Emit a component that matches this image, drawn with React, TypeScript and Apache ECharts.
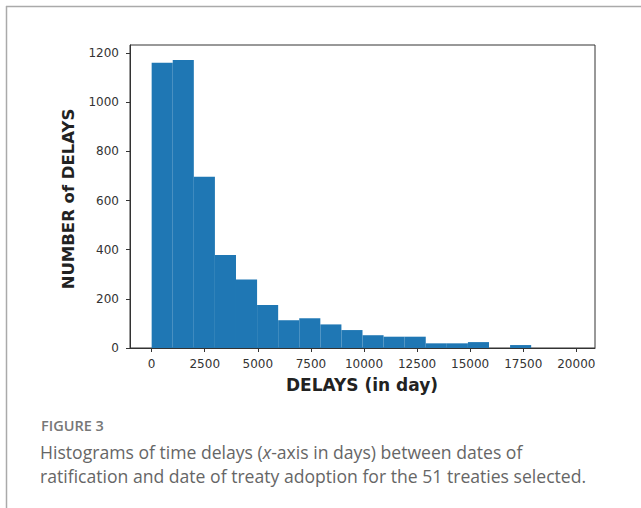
import React, { useEffect, useRef } from "react";
import * as echarts from "echarts";

// Histogram bins (days) and counts
const binWidth = 993;
const binStarts = [0, 993, 1986, 2979, 3972, 4965, 5958, 6951, 7944, 8937, 9930, 10923, 11916, 12909, 13902, 14895, 15888, 16881, 17874, 18867];
const counts = [1161, 1172, 697, 378, 279, 175, 113, 121, 96, 73, 52, 46, 46, 19, 19, 24, 0, 12, 0, 0];
const xTicks = [0, 2500, 5000, 7500, 10000, 12500, 15000, 17500, 20000];
const yTicks = [0, 200, 400, 600, 800, 1000, 1200];

const xTitle = "DELAYS (in day)";
const yTitle = "NUMBER of DELAYS";
const figLabel = "FIGURE 3";
const captionLine1a = "Histograms of time delays (";
const captionLine1x = "x";
const captionLine1b = "-axis in days) between dates of";
const captionLine2 = "ratification and date of treaty adoption for the 51 treaties selected.";

export default function App() {
  const ref = useRef<HTMLDivElement>(null);
  useEffect(() => {
    if (!ref.current) return;
    const chart = echarts.init(ref.current, null, { renderer: "svg" });
    const data = binStarts.map((s, i) => [s, s + binWidth, counts[i]]);
    const axisColor = "#333";
    const capFont = "Open Sans";
    chart.setOption({
      animation: false,
      backgroundColor: "#fff",
      grid: {
        left: 130,
        top: 45,
        width: 465,
        height: 303,
        show: true,
        borderColor: axisColor,
        borderWidth: 1,
        backgroundColor: "transparent",
      },
      xAxis: {
        type: "value",
        min: -1020,
        max: 20880,
        splitLine: { show: false },
        axisLine: { show: true, onZero: false, lineStyle: { color: axisColor, width: 1 } },
        axisTick: {
          show: true,
          length: 4,
          lineStyle: { color: axisColor },
          customValues: xTicks,
        },
        axisLabel: {
          customValues: xTicks,
          formatter: (v: number) => String(v),
          color: "#333",
          fontFamily: "DejaVu Sans",
          fontSize: 12,
          margin: 10,
          showMinLabel: true,
          showMaxLabel: true,
        },
      },
      yAxis: {
        type: "value",
        min: 0,
        max: 1233,
        splitLine: { show: false },
        axisLine: { show: true, onZero: false, lineStyle: { color: axisColor, width: 1 } },
        axisTick: {
          show: true,
          length: 4,
          lineStyle: { color: axisColor },
          customValues: yTicks,
        },
        axisLabel: {
          customValues: yTicks,
          formatter: (v: number) => String(v),
          color: "#333",
          fontFamily: "DejaVu Sans",
          fontSize: 12,
          margin: 11,
          showMinLabel: true,
          showMaxLabel: true,
        },
      },
      series: [
        {
          type: "custom",
          data,
          encode: { x: [0, 1], y: 2 },
          renderItem: (params: any, api: any) => {
            const x0 = api.value(0);
            const x1 = api.value(1);
            const c = api.value(2);
            const p0 = api.coord([x0, c]);
            const p1 = api.coord([x1, 0]);
            return {
              type: "rect",
              shape: { x: p0[0], y: p0[1], width: p1[0] - p0[0], height: p1[1] - p0[1] },
              style: { fill: "#1f77b4" },
            };
          },
        },
      ],
      graphic: [
        { type: "line", shape: { x1: 6, y1: 6.5, x2: 641, y2: 6.5 }, style: { stroke: "#aaa", lineWidth: 1.5 } },
        { type: "line", shape: { x1: 6.5, y1: 6, x2: 6.5, y2: 508 }, style: { stroke: "#aaa", lineWidth: 1.5 } },
        {
          type: "text",
          x: 362,
          y: 385,
          style: {
            text: xTitle,
            fontFamily: "DejaVu Sans",
            fontWeight: "bold",
            fontSize: 17,
            fill: "#222",
            align: "center",
            verticalAlign: "middle",
          },
        },
        {
          type: "text",
          x: 68,
          y: 199,
          rotation: Math.PI / 2,
          style: {
            text: yTitle,
            fontFamily: "DejaVu Sans",
            fontWeight: "bold",
            fontSize: 16.5,
            fill: "#222",
            align: "center",
            verticalAlign: "middle",
          },
        },
        {
          type: "text",
          x: 41,
          y: 433,
          style: {
            text: figLabel,
            fontFamily: capFont,
            fontWeight: 600,
            fontSize: 14.5,
            fill: "#777",
            align: "left",
            verticalAlign: "bottom",
          },
        },
        {
          type: "text",
          x: 40,
          y: 452,
          style: {
            text: "{n|" + captionLine1a + "}{i|" + captionLine1x + "}{n|" + captionLine1b + "}",
            rich: {
              n: { fontFamily: capFont, fontSize: 17.6, fill: "#666", color: "#666" },
              i: { fontFamily: capFont, fontStyle: "italic", fontSize: 17.6, fill: "#666", color: "#666" },
            },
            align: "left",
            verticalAlign: "middle",
          },
        },
        {
          type: "text",
          x: 40,
          y: 476,
          style: {
            text: captionLine2,
            fontFamily: capFont,
            fontSize: 17.6,
            fill: "#666",
            align: "left",
            verticalAlign: "middle",
          },
        },
      ],
    });
    return () => chart.dispose();
  }, []);
  return (
    <div
      ref={ref}
      style={{ position: "fixed", left: 0, top: 0, width: 641, height: 508 }}
    />
  );
}
